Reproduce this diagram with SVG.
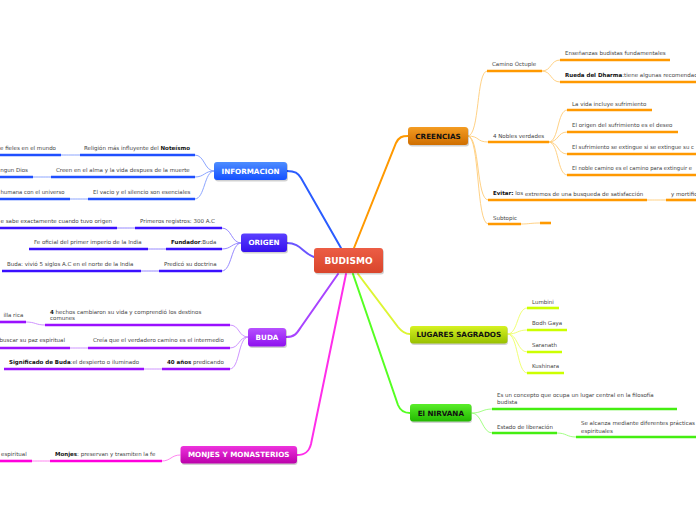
<svg xmlns="http://www.w3.org/2000/svg" width="696" height="520" viewBox="0 0 696 520">
<defs>
<linearGradient id="gC" x1="0" y1="0" x2="0" y2="1"><stop offset="0" stop-color="#ec5d45"/><stop offset="1" stop-color="#d9452b"/></linearGradient>
<linearGradient id="gI" x1="0" y1="0" x2="0" y2="1"><stop offset="0" stop-color="#4d8dff"/><stop offset="1" stop-color="#1550ff"/></linearGradient>
<linearGradient id="gO" x1="0" y1="0" x2="0" y2="1"><stop offset="0" stop-color="#5a40ff"/><stop offset="1" stop-color="#3510ee"/></linearGradient>
<linearGradient id="gB" x1="0" y1="0" x2="0" y2="1"><stop offset="0" stop-color="#b650ff"/><stop offset="1" stop-color="#8e10ee"/></linearGradient>
<linearGradient id="gM" x1="0" y1="0" x2="0" y2="1"><stop offset="0" stop-color="#ee33dd"/><stop offset="1" stop-color="#bb00aa"/></linearGradient>
<linearGradient id="gR" x1="0" y1="0" x2="0" y2="1"><stop offset="0" stop-color="#f49c22"/><stop offset="1" stop-color="#cf6e00"/></linearGradient>
<linearGradient id="gL" x1="0" y1="0" x2="0" y2="1"><stop offset="0" stop-color="#d6f222"/><stop offset="1" stop-color="#98c000"/></linearGradient>
<linearGradient id="gN" x1="0" y1="0" x2="0" y2="1"><stop offset="0" stop-color="#5aee2a"/><stop offset="1" stop-color="#22b800"/></linearGradient>
</defs>
<style>
.t{font-family:"DejaVu Sans",Verdana,sans-serif;font-size:5.5px;fill:#444}
.e{text-anchor:end}
.b{font-weight:bold;fill:#111}
.n{font-family:"DejaVu Sans",Verdana,sans-serif;font-weight:bold;font-size:7.2px;text-anchor:middle;fill:#fff}
.k{fill:#111}
.sh{fill:#000;opacity:0.18}
.c{fill:none;stroke-linecap:round}
.m{stroke-width:2}
.s{stroke-width:0.9}
.bar{stroke-width:2.6;fill:none}
</style>
<rect width="696" height="520" fill="#fff"/>
<g id="connectors">
<path class="c m" stroke="#2a5cff" d="M287,171 C295,171 298,173 301,178 L341,248"/>
<path class="c m" stroke="#ff9900" d="M354,248 L396,143 C399,137 402,136 408,136"/>
<path class="c m" stroke="#6a55ff" d="M287,243 C300,243 303,253 314,257"/>
<path class="c m" stroke="#a844ff" d="M286,337 C295,337 297,333 301,327 L338,274"/>
<path class="c m" stroke="#ff2eea" d="M297,455 C305,455 309,452 311,444 L346,274"/>
<path class="c m" stroke="#ddf533" d="M358,274 L398,327 C402,332 405,334 410,334"/>
<path class="c m" stroke="#55ff22" d="M353,274 L398,405 C400,410 403,413 410,413"/>
<g stroke="#7f9bff" class="c s">
<path d="M214,171 C204,171 205,155 195,155"/>
<path d="M214,171 C204,171 205,177 195,177"/>
<path d="M214,171 C204,171 205,199 195,199"/>
<path d="M80,155 C70,155 70,155 61,155"/>
<path d="M51,177 C42,177 42,177 33,177"/>
<path d="M88,199 C79,199 79,199 70,199"/>
</g>
<g stroke="#8a7bff" class="c s">
<path d="M241,243 C231,243 232,228 222,228"/>
<path d="M241,243 C231,243 232,249 222,249"/>
<path d="M241,243 C231,243 232,271 222,271"/>
<path d="M135,228 C126,228 126,228 117,228"/>
<path d="M166,249 C157,249 157,249 148,249"/>
<path d="M159,271 C150,271 150,271 141,271"/>
</g>
<g stroke="#c888ff" class="c s">
<path d="M248,337 C238,337 240,325 230,325"/>
<path d="M248,337 C238,337 240,348 230,348"/>
<path d="M248,337 C238,337 240,369 230,369"/>
<path d="M45,325 C35,325 36,322 26,322"/>
<path d="M88,348 C79,348 79,348 70,348"/>
<path d="M162,369 C153,369 153,369 144,369"/>
</g>
<g stroke="#ff77ee" class="c s">
<path d="M180,455 C171,455 171,461 162,461"/>
<path d="M50,461 C41,461 41,461 32,461"/>
</g>
<g stroke="#ffcc77" class="c s">
<path d="M468,136 C480,136 476,71 487,71"/>
<path d="M468,136 C480,136 476,142 488,142"/>
<path d="M468,136 C480,136 476,200 488,200"/>
<path d="M468,136 C480,136 476,224 488,224"/>
<path d="M542,71 C552,71 550,60 560,60"/>
<path d="M542,71 C552,71 550,82 560,82"/>
<path d="M549,142 C559,142 557,110 567,110"/>
<path d="M549,142 C559,142 557,132 567,132"/>
<path d="M549,142 C559,142 557,154 567,154"/>
<path d="M549,142 C559,142 557,175 567,175"/>
<path d="M647,200 C656,200 656,200 666,200"/>
<path d="M521,224 C530,224 530,223 540,223"/>
</g>
<g stroke="#eeff66" class="c s">
<path d="M508,334 C518,334 517,308 527,308"/>
<path d="M508,334 C518,334 517,330 527,330"/>
<path d="M508,334 C518,334 517,352 527,352"/>
<path d="M508,334 C518,334 517,373 527,373"/>
</g>
<g stroke="#99ff77" class="c s">
<path d="M472,413 C482,413 482,409 492,409"/>
<path d="M472,413 C482,413 482,433 492,433"/>
<path d="M557,433 C567,433 566,437 576,437"/>
</g>
</g>

<g id="budismo">
<rect class="sh" x="315" y="249.5" width="69" height="25" rx="3"/>
<rect x="314" y="248" width="69" height="25" rx="3" fill="url(#gC)"/>
<text class="n" x="348.5" y="264" style="font-size:9px">BUDISMO</text>
</g>

<g id="informacion">
<rect class="sh" x="215" y="163" width="73" height="18.5" rx="3"/>
<rect x="214" y="162" width="73" height="18" rx="3" fill="url(#gI)"/>
<text class="n" x="250.5" y="173.6">INFORMACION</text>
<line class="bar" stroke="#1f4fff" x1="80" y1="155" x2="195" y2="155"/>
<text class="t" x="84" y="150">Religión más influyente del <tspan class="b">Noteísmo</tspan></text>
<line class="bar" stroke="#1f4fff" x1="0" y1="155" x2="61" y2="155"/>
<text class="t e" x="56" y="150">e fieles en el mundo</text>
<line class="bar" stroke="#1f4fff" x1="51" y1="177" x2="195" y2="177"/>
<text class="t" x="56" y="172">Creen en el alma y la vida despues de la muerte</text>
<line class="bar" stroke="#1f4fff" x1="0" y1="177" x2="33" y2="177"/>
<text class="t e" x="28" y="172">ngun Dios</text>
<line class="bar" stroke="#1f4fff" x1="88" y1="199" x2="195" y2="199"/>
<text class="t" x="93" y="193.5">El vacio y el silencio son esenciales</text>
<line class="bar" stroke="#1f4fff" x1="0" y1="199" x2="70" y2="199"/>
<text class="t" x="0.5" y="193.5" textLength="64" lengthAdjust="spacingAndGlyphs">humana con el universo</text>
</g>

<g id="origen">
<rect class="sh" x="242" y="234.5" width="46" height="19" rx="3"/>
<rect x="241" y="233.5" width="46" height="18.5" rx="3" fill="url(#gO)"/>
<text class="n" x="264" y="245.3">ORIGEN</text>
<line class="bar" stroke="#3a10ff" x1="135" y1="228" x2="222" y2="228"/>
<text class="t" x="140" y="222.5">Primeros registros: 300 A.C</text>
<line class="bar" stroke="#3a10ff" x1="0" y1="228" x2="117" y2="228"/>
<text class="t e" x="112" y="222.5">e sabe exactamente cuando tuvo origen</text>
<line class="bar" stroke="#3a10ff" x1="166" y1="249" x2="222" y2="249"/>
<text class="t" x="171" y="244"><tspan class="b">Fundador</tspan>:Buda</text>
<line class="bar" stroke="#3a10ff" x1="29" y1="249" x2="148" y2="249"/>
<text class="t" x="34" y="244">Fe oficial del primer imperio de la India</text>
<line class="bar" stroke="#3a10ff" x1="159" y1="271" x2="222" y2="271"/>
<text class="t" x="164" y="265.5">Predicó su doctrina</text>
<line class="bar" stroke="#3a10ff" x1="2" y1="271" x2="141" y2="271"/>
<text class="t" x="7" y="265.5">Buda: vivió 5 siglos A.C en el norte de la India</text>
</g>

<g id="buda">
<rect class="sh" x="249" y="329" width="38" height="19" rx="3"/>
<rect x="248" y="328" width="38" height="18.5" rx="3" fill="url(#gB)"/>
<text class="n" x="267" y="339.8">BUDA</text>
<line class="bar" stroke="#9a10ff" x1="45" y1="325" x2="230" y2="325"/>
<text class="t" x="50" y="313.8"><tspan class="b">4</tspan> hechos cambiaron su vida y comprendió los destinos</text>
<text class="t" x="50" y="320.3">comunes</text>
<line class="bar" stroke="#9a10ff" x1="0" y1="322" x2="26" y2="322"/>
<text class="t e" x="23.3" y="316.5">illa rica</text>
<line class="bar" stroke="#9a10ff" x1="88" y1="348" x2="230" y2="348"/>
<text class="t" x="93" y="342">Creía que el verdadero camino es el intermedio</text>
<line class="bar" stroke="#9a10ff" x1="0" y1="348" x2="70" y2="348"/>
<text class="t e" x="65" y="342">buscar su paz espiritual</text>
<line class="bar" stroke="#9a10ff" x1="162" y1="369" x2="230" y2="369"/>
<text class="t" x="167" y="364"><tspan class="b">40 años</tspan> predicando</text>
<line class="bar" stroke="#9a10ff" x1="4" y1="369" x2="144" y2="369"/>
<text class="t" x="9" y="364"><tspan class="b">Significado de Buda</tspan>:el despierto o iluminado</text>
</g>

<g id="monjes">
<rect class="sh" x="181.5" y="447" width="116" height="18" rx="3"/>
<rect x="180.5" y="446" width="116.5" height="17.5" rx="3" fill="url(#gM)"/>
<text class="n" x="238.7" y="457.3">MONJES Y MONASTERIOS</text>
<line class="bar" stroke="#ff00dd" x1="50" y1="461" x2="162" y2="461"/>
<text class="t" x="55" y="456"><tspan class="b">Monjes</tspan>: preservan y trasmiten la fe</text>
<line class="bar" stroke="#ff00dd" x1="0" y1="461" x2="32" y2="461"/>
<text class="t e" x="26.7" y="456">espiritual</text>
</g>

<g id="creencias">
<rect class="sh" x="409" y="128" width="60" height="18.5" rx="3"/>
<rect x="408" y="127" width="60" height="18" rx="3" fill="url(#gR)"/>
<text class="n k" x="438" y="138.7">CREENCIAS</text>
<line class="bar" stroke="#ff9900" x1="487" y1="71" x2="542" y2="71"/>
<text class="t" x="492" y="66">Camino Óctuple</text>
<line class="bar" stroke="#ff9900" x1="560" y1="60" x2="670" y2="60"/>
<text class="t" x="565" y="55">Enseñanzas budistas fundamentales</text>
<line class="bar" stroke="#ff9900" x1="560" y1="82" x2="696" y2="82"/>
<text class="t" x="565" y="77"><tspan class="b">Rueda del Dharma</tspan>:tiene algunas recomendac</text>
<line class="bar" stroke="#ff9900" x1="488" y1="142" x2="549" y2="142"/>
<text class="t" x="493" y="137.5">4 Nobles verdades</text>
<line class="bar" stroke="#ff9900" x1="567" y1="110" x2="652" y2="110"/>
<text class="t" x="572" y="105.5">La vida incluye sufrimiento</text>
<line class="bar" stroke="#ff9900" x1="567" y1="132" x2="678" y2="132"/>
<text class="t" x="572" y="127">El origen del sufrimiento es el deseo</text>
<line class="bar" stroke="#ff9900" x1="567" y1="154" x2="696" y2="154"/>
<text class="t" x="572" y="148.8" textLength="122" lengthAdjust="spacingAndGlyphs">El sufrimiento se extingue si se extingue su c</text>
<line class="bar" stroke="#ff9900" x1="567" y1="175" x2="696" y2="175"/>
<text class="t" x="572" y="170" textLength="120" lengthAdjust="spacingAndGlyphs">El noble camino es el camino para extinguir e</text>
<line class="bar" stroke="#ff9900" x1="488" y1="200" x2="647" y2="200"/>
<text class="t" x="493" y="194.5"><tspan class="b">Evitar:</tspan> los</text>
<text class="t" x="525" y="195.5">extremos de una busqueda de satisfacción</text>
<line class="bar" stroke="#ff9900" x1="666" y1="200" x2="696" y2="200"/>
<text class="t" x="671" y="195.5">y mortific</text>
<line class="bar" stroke="#ff9900" x1="488" y1="224" x2="521" y2="224"/>
<text class="t" x="493" y="219.5">Subtopic</text>
<line class="bar" stroke="#ff9900" x1="540" y1="223" x2="551" y2="223"/>
</g>

<g id="lugares">
<rect class="sh" x="411" y="327" width="97" height="18" rx="3"/>
<rect x="410" y="326" width="97.5" height="17.5" rx="3" fill="url(#gL)"/>
<text class="n k" x="458.8" y="337.3">LUGARES SAGRADOS</text>
<line class="bar" stroke="#ccff00" x1="527" y1="308" x2="559" y2="308"/>
<text class="t" x="532" y="303.5">Lumbini</text>
<line class="bar" stroke="#ccff00" x1="527" y1="330" x2="567" y2="330"/>
<text class="t" x="532" y="325">Bodh Gaya</text>
<line class="bar" stroke="#ccff00" x1="527" y1="352" x2="562" y2="352"/>
<text class="t" x="532" y="346.5">Saranath</text>
<line class="bar" stroke="#ccff00" x1="527" y1="373" x2="564" y2="373"/>
<text class="t" x="532" y="368">Kushinara</text>
</g>

<g id="nirvana">
<rect class="sh" x="411" y="405" width="61" height="18" rx="3"/>
<rect x="410" y="404" width="61.5" height="17.5" rx="3" fill="url(#gN)"/>
<text class="n k" x="440.8" y="415.5">El NIRVANA</text>
<line class="bar" stroke="#44ee11" x1="492" y1="409" x2="677" y2="409"/>
<text class="t" x="497" y="397">Es un concepto que ocupa un lugar central en la filosofía</text>
<text class="t" x="497" y="403.5">budista</text>
<line class="bar" stroke="#44ee11" x1="492" y1="433" x2="557" y2="433"/>
<text class="t" x="497" y="428.5">Estado de</text>
<text class="t" x="526" y="429.3">liberación</text>
<line class="bar" stroke="#44ee11" x1="576" y1="437" x2="696" y2="437"/>
<text class="t" x="581" y="425">Se alcanza mediante diferentes prácticas</text>
<text class="t" x="581" y="432.5">espirituales</text>
</g>
</svg>
